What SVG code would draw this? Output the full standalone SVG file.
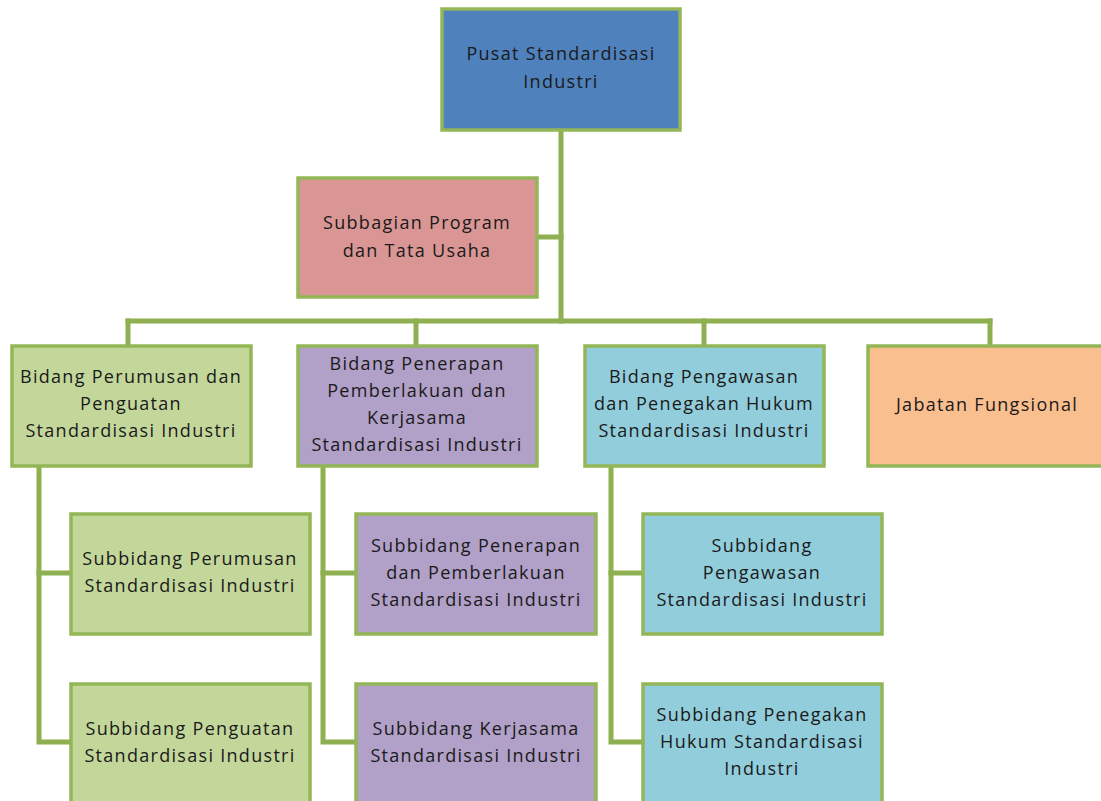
<svg xmlns="http://www.w3.org/2000/svg" width="1101" height="801" viewBox="0 0 1101 801">
<style>
.box{stroke:#93B656;stroke-width:3.5}
.t{font-family:"Open Sans","Liberation Sans",sans-serif;font-size:18px;letter-spacing:1.3px;fill:#1a1a1a;text-anchor:middle}
.c{fill:none;stroke:#8EB050;stroke-width:5;stroke-linecap:square;stroke-linejoin:miter}
</style>
<rect width="1101" height="801" fill="#ffffff"/>
<g id="connectors">
<path class="c" d="M561,130 V321"/>
<path class="c" d="M537,237 H561"/>
<path class="c" d="M128,321 H990"/>
<path class="c" d="M128,321 V345"/>
<path class="c" d="M416,321 V345"/>
<path class="c" d="M704,321 V345"/>
<path class="c" d="M990,321 V345"/>
<path class="c" d="M39,467 V742 H70"/>
<path class="c" d="M39,573 H70"/>
<path class="c" d="M323,467 V742 H355"/>
<path class="c" d="M323,573 H355"/>
<path class="c" d="M611,467 V742 H642"/>
<path class="c" d="M611,573 H642"/>
</g>
<g id="pusat">
<rect class="box" x="442" y="9" width="238" height="121" fill="#4F81BD"/>
<text class="t" x="561" y="60">Pusat Standardisasi</text>
<text class="t" x="561" y="88">Industri</text>
</g>
<g id="subbagian">
<rect class="box" x="298" y="178" width="239" height="119" fill="#DA9694"/>
<text class="t" x="417" y="229">Subbagian Program</text>
<text class="t" x="417" y="257">dan Tata Usaha</text>
</g>
<g id="bidang1">
<rect class="box" x="12" y="346" width="239" height="120" fill="#C4D79B"/>
<text class="t" x="131" y="383">Bidang Perumusan dan</text>
<text class="t" x="131" y="410">Penguatan</text>
<text class="t" x="131" y="437">Standardisasi Industri</text>
</g>
<g id="bidang2">
<rect class="box" x="298" y="346" width="239" height="120" fill="#B1A0C7"/>
<text class="t" x="417" y="370">Bidang Penerapan</text>
<text class="t" x="417" y="397">Pemberlakuan dan</text>
<text class="t" x="417" y="424">Kerjasama</text>
<text class="t" x="417" y="451">Standardisasi Industri</text>
</g>
<g id="bidang3">
<rect class="box" x="585" y="346" width="239" height="120" fill="#92CDDC"/>
<text class="t" x="704" y="383">Bidang Pengawasan</text>
<text class="t" x="704" y="410">dan Penegakan Hukum</text>
<text class="t" x="704" y="437">Standardisasi Industri</text>
</g>
<g id="jabatan">
<rect class="box" x="868" y="346" width="250" height="120" fill="#FABF8F"/>
<text class="t" x="987" y="411">Jabatan Fungsional</text>
</g>
<g id="sub1a">
<rect class="box" x="71" y="514" width="239" height="120" fill="#C4D79B"/>
<text class="t" x="190" y="565">Subbidang Perumusan</text>
<text class="t" x="190" y="592">Standardisasi Industri</text>
</g>
<g id="sub1b">
<rect class="box" x="71" y="684" width="239" height="125" fill="#C4D79B"/>
<text class="t" x="190" y="735">Subbidang Penguatan</text>
<text class="t" x="190" y="762">Standardisasi Industri</text>
</g>
<g id="sub2a">
<rect class="box" x="356" y="514" width="240" height="120" fill="#B1A0C7"/>
<text class="t" x="476" y="552">Subbidang Penerapan</text>
<text class="t" x="476" y="579">dan Pemberlakuan</text>
<text class="t" x="476" y="606">Standardisasi Industri</text>
</g>
<g id="sub2b">
<rect class="box" x="356" y="684" width="240" height="125" fill="#B1A0C7"/>
<text class="t" x="476" y="735">Subbidang Kerjasama</text>
<text class="t" x="476" y="762">Standardisasi Industri</text>
</g>
<g id="sub3a">
<rect class="box" x="643" y="514" width="239" height="120" fill="#92CDDC"/>
<text class="t" x="762" y="552">Subbidang</text>
<text class="t" x="762" y="579">Pengawasan</text>
<text class="t" x="762" y="606">Standardisasi Industri</text>
</g>
<g id="sub3b">
<rect class="box" x="643" y="684" width="239" height="125" fill="#92CDDC"/>
<text class="t" x="762" y="721">Subbidang Penegakan</text>
<text class="t" x="762" y="748">Hukum Standardisasi</text>
<text class="t" x="762" y="775">Industri</text>
</g>
</svg>
